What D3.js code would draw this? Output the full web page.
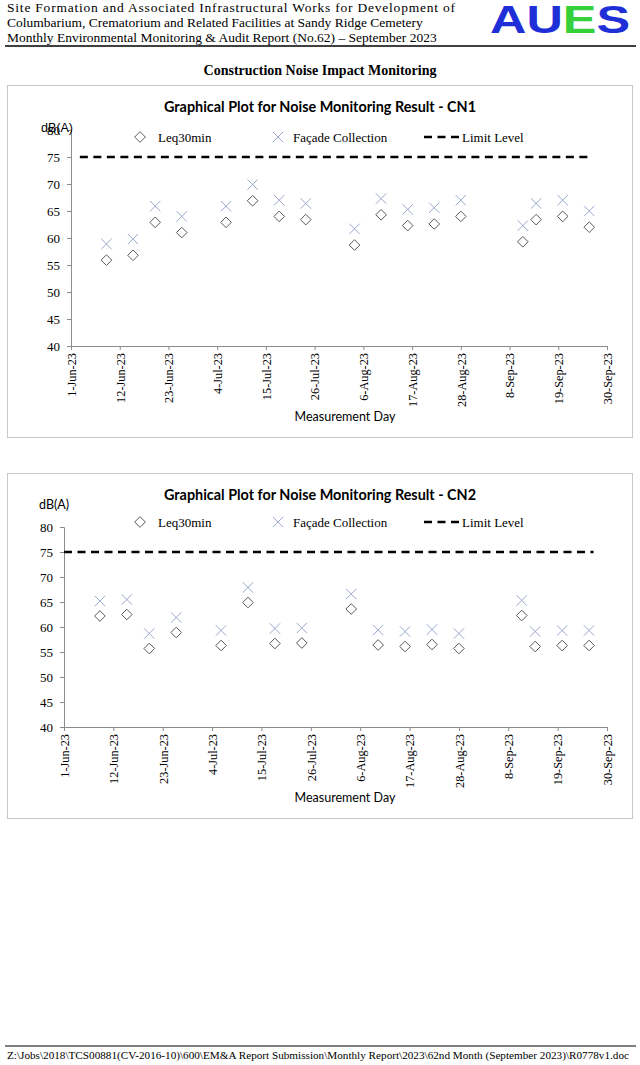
<!DOCTYPE html>
<html>
<head>
<meta charset="utf-8">
<script src="https://cdn.jsdelivr.net/npm/d3@7"></script>
<style>
  body { margin: 0; background: #fff; }
  svg { display: block; }
</style>
</head>
<body>
<div id="page"></div>
<script>
// measurement days (same for both stations)
var days = ['2023-06-09', '2023-06-15', '2023-06-20', '2023-06-26', '2023-07-06', '2023-07-12',
  '2023-07-18', '2023-07-24', '2023-08-04', '2023-08-10', '2023-08-16', '2023-08-22',
  '2023-08-28', '2023-09-11', '2023-09-14', '2023-09-20', '2023-09-26']

var cn1Leq = [55.9, 56.8, 62.9, 61.0, 62.9, 66.9, 64.0, 63.4, 58.7, 64.3, 62.3, 62.6, 64.0, 59.3, 63.4, 64.0, 62.0]
var cn1Facade = [58.9, 59.8, 65.9, 64.0, 65.9, 69.9, 67.0, 66.4, 61.7, 67.3, 65.3, 65.6, 67.0, 62.3, 66.4, 67.0, 65.0]
var cn2Leq = [62.2, 62.5, 55.7, 58.9, 56.3, 64.9, 56.7, 56.8, 63.6, 56.4, 56.1, 56.5, 55.7, 62.3, 56.1, 56.3, 56.3]
var cn2Facade = [65.2, 65.5, 58.7, 61.9, 59.3, 67.9, 59.7, 59.8, 66.6, 59.4, 59.1, 59.5, 58.7, 65.3, 59.1, 59.3, 59.3]

var limitLevel = 75
var cn1LimitDays = ['2023-06-03', '2023-09-26']
var cn2LimitDays = ['2023-06-01', '2023-09-27']

var xTickDays = ['2023-06-01', '2023-06-12', '2023-06-23', '2023-07-04', '2023-07-15', '2023-07-26',
  '2023-08-06', '2023-08-17', '2023-08-28', '2023-09-08', '2023-09-19', '2023-09-30']
var yTicks = [40, 45, 50, 55, 60, 65, 70, 75, 80]
var legendLabels = ['Leq30min', 'Façade Collection', 'Limit Level']

var W = 640, H = 1065
var serif = "'Liberation Serif', 'Times New Roman', serif"
var sans = "Lato, 'Liberation Sans', sans-serif"
var parse = d3.utcParse('%Y-%m-%d')
var fmt = d3.utcFormat('%-d-%b-%y')

var svg = d3.select('#page').append('svg').attr('width', W).attr('height', H)

// ---- page header ----
var header = ['Site Formation and Associated Infrastructural Works for Development of',
  'Columbarium, Crematorium and Related Facilities at Sandy Ridge Cemetery',
  'Monthly Environmental Monitoring & Audit Report (No.62) \u2013 September 2023']

svg.selectAll('text.hdr').data(header).enter().append('text')
  .attr('class', 'hdr')
  .attr('x', 7)
  .attr('y', (d, i) => 12 + i * 15)
  .attr('font-family', serif)
  .attr('font-size', 13.5)
  .attr('textLength', (d, i) => i === 0 ? 448 : null)
  .attr('lengthAdjust', 'spacing')
  .text(d => d)

// logo, stretched wide like the original artwork
var logo = svg.append('text')
  .attr('x', 490).attr('y', 33)
  .attr('textLength', 140).attr('lengthAdjust', 'spacingAndGlyphs')
  .attr('font-family', "'Liberation Sans', Arial, sans-serif")
  .attr('font-weight', 'bold').attr('font-size', 39)
logo.append('tspan').attr('fill', '#1f2fd8').text('AU')
logo.append('tspan').attr('fill', '#36d13a').text('E')
logo.append('tspan').attr('fill', '#1f2fd8').text('S')

svg.append('line').attr('x1', 5).attr('x2', 636).attr('y1', 46).attr('y2', 46)
  .attr('stroke', '#000').attr('stroke-width', 1.3)

svg.append('text').attr('x', 320).attr('y', 75)
  .attr('text-anchor', 'middle').attr('font-family', serif)
  .attr('font-weight', 'bold').attr('font-size', 14)
  .text('Construction Noise Impact Monitoring')

// ---- footer ----
svg.append('line').attr('x1', 5).attr('x2', 636).attr('y1', 1046).attr('y2', 1046)
  .attr('stroke', '#000').attr('stroke-width', 1)
svg.append('text').attr('x', 7).attr('y', 1059)
  .attr('font-family', serif).attr('font-size', 9.5)
  .attr('textLength', 622).attr('lengthAdjust', 'spacingAndGlyphs')
  .text('Z:\\Jobs\\2018\\TCS00881(CV-2016-10)\\600\\EM&A Report Submission\\Monthly Report\\2023\\62nd Month (September 2023)\\R0778v1.doc')

var diamond = d3.symbol().type(d3.symbolDiamond2 || d3.symbolSquare).size(72)
var cross = d3.symbol().type(d3.symbolTimes || d3.symbolCross).size(72)

var renderChart = (cfg) => {
  var g = svg.append('g')

  g.append('rect')
    .attr('x', 7.5).attr('y', cfg.top + 0.5)
    .attr('width', 625).attr('height', cfg.boxH)
    .attr('fill', '#fff').attr('stroke', '#c8c8c8')

  g.append('text')
    .attr('x', 320).attr('y', cfg.top + 27)
    .attr('text-anchor', 'middle')
    .attr('font-family', sans).attr('font-weight', 'bold').attr('font-size', 14.4)
    .text(cfg.title)

  var x = d3.scaleUtc()
    .domain([parse(xTickDays[0]), parse(xTickDays[xTickDays.length - 1])])
    .range([cfg.left, 607])
  var y = d3.scaleLinear().domain([40, 80]).range([cfg.y40, cfg.y80])

  var yAxis = g.append('g')
    .attr('transform', `translate(${cfg.left},0)`)
    .call(d3.axisLeft(y).tickValues(yTicks).tickSize(4).tickPadding(7))
  yAxis.select('.domain').attr('stroke', '#8c8c8c')
  yAxis.selectAll('.tick line').attr('stroke', '#8c8c8c')
  yAxis.selectAll('text').attr('font-family', serif).attr('font-size', 13).attr('fill', '#000')

  var xAxis = g.append('g')
    .attr('transform', `translate(0,${cfg.y40})`)
    .call(d3.axisBottom(x).tickValues(xTickDays.map(parse)).tickFormat(fmt).tickSize(4).tickSizeOuter(0))
  xAxis.select('.domain').attr('stroke', '#8c8c8c')
  xAxis.selectAll('.tick line').attr('stroke', '#8c8c8c')
  xAxis.selectAll('text')
    .attr('font-family', serif).attr('font-size', 12.3).attr('fill', '#000')
    .attr('transform', 'rotate(-90)')
    .attr('text-anchor', 'end')
    .attr('x', -7).attr('y', 0).attr('dy', '0.35em')

  g.append('text')
    .attr('x', cfg.unitX).attr('y', cfg.unitY)
    .attr('font-family', cfg.unitFont).attr('font-size', 12.5)
    .text('dB(A)')

  g.append('text')
    .attr('x', 345).attr('y', cfg.y40 + 75)
    .attr('text-anchor', 'middle')
    .attr('font-family', sans).attr('font-size', 12.5)
    .text('Measurement Day')

  // limit level
  g.append('path')
    .datum(cfg.limitDays.map(d => ({ d: parse(d), v: limitLevel })))
    .attr('d', d3.line().x(p => x(p.d)).y(p => y(p.v)))
    .attr('fill', 'none').attr('stroke', '#000')
    .attr('stroke-width', 2.4).attr('stroke-dasharray', '8,5.5')

  var pts = days.map((d, i) => ({ d: parse(d), leq: cfg.leq[i], fac: cfg.fac[i] }))

  g.selectAll('path.fac').data(pts).enter().append('path')
    .attr('class', 'fac')
    .attr('d', cross)
    .attr('transform', p => `translate(${x(p.d)},${y(p.fac)})`)
    .attr('fill', 'none').attr('stroke', '#9ba7cc').attr('stroke-width', 1)

  g.selectAll('path.leq').data(pts).enter().append('path')
    .attr('class', 'leq')
    .attr('d', diamond)
    .attr('transform', p => `translate(${x(p.d)},${y(p.leq)})`)
    .attr('fill', '#fff').attr('stroke', '#595959').attr('stroke-width', 1)

  // legend
  var ly = cfg.legendY
  var lg = g.append('g')
  lg.append('path').attr('d', diamond).attr('transform', `translate(140,${ly})`)
    .attr('fill', '#fff').attr('stroke', '#595959')
  lg.append('path').attr('d', cross).attr('transform', `translate(278,${ly})`)
    .attr('fill', 'none').attr('stroke', '#9ba7cc')
  lg.append('line').attr('x1', 424).attr('x2', 459).attr('y1', ly).attr('y2', ly)
    .attr('stroke', '#000').attr('stroke-width', 2.4).attr('stroke-dasharray', '8,5.5')
  lg.selectAll('text').data(legendLabels).enter().append('text')
    .attr('x', (d, i) => [158, 293, 462][i])
    .attr('y', ly).attr('dy', '0.35em')
    .attr('font-family', serif).attr('font-size', 13)
    .text(d => d)
}

renderChart({
  title: 'Graphical Plot for Noise Monitoring Result - CN1',
  top: 85, boxH: 352, left: 71, y40: 346, y80: 130,
  unitX: 41, unitY: 132, unitFont: "'Liberation Sans', Arial, sans-serif",
  legendY: 137, leq: cn1Leq, fac: cn1Facade, limitDays: cn1LimitDays
})

renderChart({
  title: 'Graphical Plot for Noise Monitoring Result - CN2',
  top: 473, boxH: 345, left: 64, y40: 727, y80: 527,
  unitX: 39, unitY: 509, unitFont: sans,
  legendY: 522, leq: cn2Leq, fac: cn2Facade, limitDays: cn2LimitDays
})
</script>
</body>
</html>
